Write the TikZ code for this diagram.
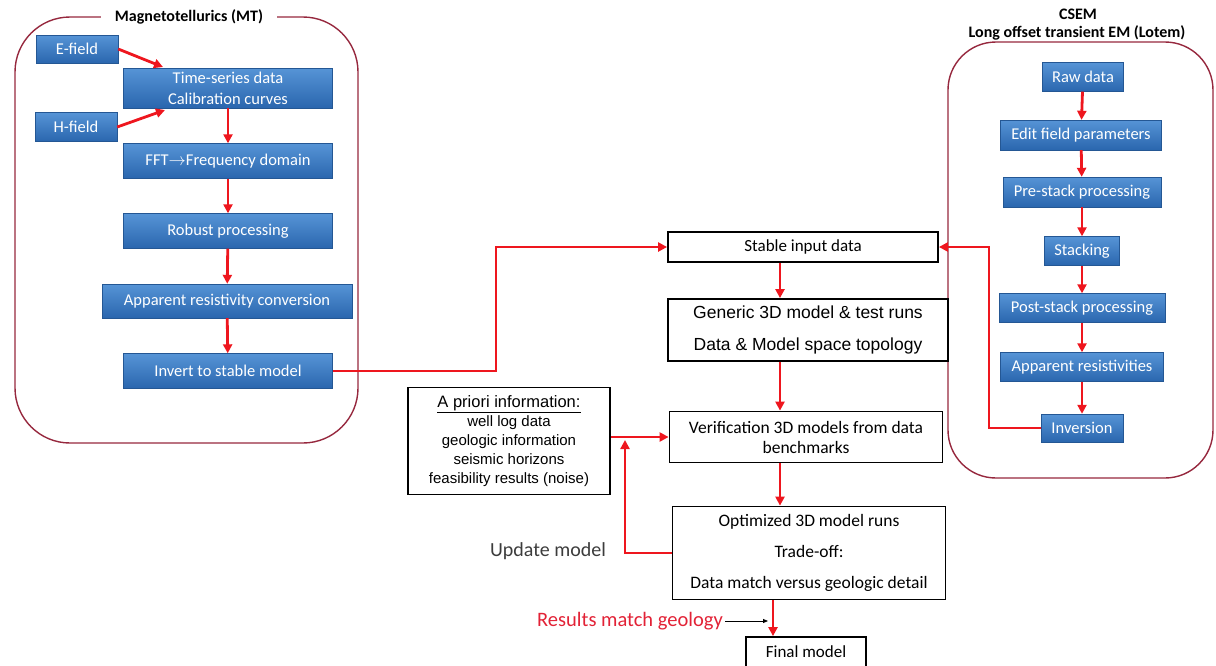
\documentclass[tikz,border=0pt]{standalone}
\usepackage{fontspec}
\setmainfont{Carlito}
\newfontfamily\arialfont{Liberation Sans}
\usetikzlibrary{arrows.meta}
\definecolor{frameline}{RGB}{150,40,62}
\definecolor{bluetop}{RGB}{86,148,214}
\definecolor{bluebot}{RGB}{42,102,174}
\definecolor{flowred}{RGB}{238,22,30}
\definecolor{geored}{RGB}{226,34,54}
\definecolor{graytext}{RGB}{60,60,60}
\tikzset{
  procbox/.style={top color=bluetop, bottom color=bluebot, draw=bluebot!85!black,
    line width=0.4pt, text=white, inner sep=0pt, align=center,
    font=\fontsize{16.5}{21}\selectfont},
  stagebox/.style={draw=black, fill=white, line width=1.8pt, inner sep=0pt, align=center},
  framebox/.style={draw=frameline, line width=1.4pt, rounded corners=55pt},
  titletext/.style={fill=white, font=\bfseries\fontsize{16}{18}\selectfont},
  flow/.style={draw=flowred, line width=2.8pt, -{Triangle[length=9pt,width=9pt]}},
  thinflow/.style={draw=black, line width=0.8pt, -{Triangle[length=5pt,width=4pt]}}
}
\begin{document}
\begin{tikzpicture}[x=1pt, y=-1pt]
  \useasboundingbox (0,0) rectangle (1216,665);
  % frames
  \draw[framebox] (15,17) rectangle (358,443);
  \draw[framebox, rounded corners=48pt] (948,42) rectangle (1213,478);
  \node[titletext, inner xsep=14pt] (mttitle) at (189,17) {Magnetotellurics (MT)};
  \node[titletext, inner xsep=2pt, inner ysep=1pt] (lotemtitle) at (1077,33) {Long offset transient EM (Lotem)};
  \node[titletext, fill=none] (csemtitle) at (1078,14) {CSEM};

  % MT chain
  \node[procbox, minimum width=82, minimum height=28] (efield) at (77,49) {E-field};
  \node[procbox, minimum width=209, minimum height=40] (tsdata) at (228,88) {Time-series data\\Calibration curves};
  \node[procbox, minimum width=82, minimum height=29] (hfield) at (76,127) {H-field};
  \node[procbox, minimum width=209, minimum height=35] (fft) at (228,161) {FFT$\rightarrow$Frequency domain};
  \node[procbox, minimum width=209, minimum height=35] (robust) at (228,231) {Robust processing};
  \node[procbox, minimum width=250, minimum height=34] (apres) at (227,301) {Apparent resistivity conversion};
  \node[procbox, minimum width=209, minimum height=35] (invmt) at (228,371) {Invert to stable model};
  \coordinate (efin) at (163,67);
  \coordinate (hfin) at (165,110);

  % CSEM chain
  \node[procbox, minimum width=81, minimum height=29] (rawdata) at (1083,77) {Raw data};
  \node[procbox, minimum width=161, minimum height=30] (editfield) at (1081,135) {Edit field parameters};
  \node[procbox, minimum width=158, minimum height=30] (prestack) at (1082,192) {Pre-stack processing};
  \node[procbox, minimum width=75, minimum height=29] (stacking) at (1082,251) {Stacking};
  \node[procbox, minimum width=166, minimum height=29] (poststack) at (1082,308) {Post-stack processing};
  \node[procbox, minimum width=163, minimum height=29] (apresist) at (1082,367) {Apparent resistivities};
  \node[procbox, minimum width=82, minimum height=28] (inversion) at (1082,428) {Inversion};

  % central chain
  \node[stagebox, minimum width=270, minimum height=30, font=\fontsize{17}{20}\selectfont] (stable) at (803,247) {Stable input data};
  \node[stagebox, minimum width=280, minimum height=62, font=\arialfont\fontsize{17.5}{32}\selectfont] (generic) at (808,330) {Generic 3D model \& test runs\\Data \& Model space topology};
  \node[stagebox, minimum width=273, minimum height=51, font=\fontsize{17.5}{20}\selectfont] (verify) at (806,437) {Verification 3D models from data\\benchmarks};
  \node[stagebox, minimum width=202, minimum height=107, font=\arialfont\fontsize{15}{19}\selectfont] (apriori) at (509,441)
    {{\fontsize{16.5}{19}\selectfont\underline{A priori information:}}\\well log data\\geologic information\\seismic horizons\\feasibility results (noise)};
  \node[stagebox, minimum width=273, minimum height=93, font=\fontsize{17.5}{31}\selectfont] (optimized) at (809,553) {Optimized 3D model runs\\Trade-off:\\Data match versus geologic detail};
  \node[stagebox, minimum width=120, minimum height=30, font=\fontsize{17}{20}\selectfont] (final) at (806,652) {Final model};
  \node[text=graytext, font=\fontsize{20}{24}\selectfont] (update) at (548,551) {Update model};
  \node[text=geored, font=\fontsize{20.5}{24}\selectfont, inner sep=2pt] (results) at (630,621) {Results match geology};
  \coordinate (colx) at (780,0);
  \coordinate (finx) at (773,0);
  \coordinate (mtbend) at (496,0);
  \coordinate (csembend) at (989,0);
  \coordinate (updtip) at (625,440);
  \coordinate (resultstip) at (768,621);

  % MT arrows
  \draw[flow] (efield.east) -- (efin);
  \draw[flow] (hfield.east) -- (hfin);
  \draw[flow] (tsdata) -- (fft);
  \draw[flow] (fft) -- (robust);
  \draw[flow] (robust) -- (apres);
  \draw[flow] (apres) -- (invmt);
  % CSEM arrows
  \draw[flow] (rawdata) -- (editfield);
  \draw[flow] (editfield) -- (prestack);
  \draw[flow] (prestack) -- (stacking);
  \draw[flow] (stacking) -- (poststack);
  \draw[flow] (poststack) -- (apresist);
  \draw[flow] (apresist) -- (inversion);
  % to the central chain
  \draw[flow] (invmt.east) -- (invmt.east -| mtbend) |- (stable.west);
  \draw[flow] (inversion.west) -- (inversion.west -| csembend) |- (stable.east);
  \draw[flow] (stable.south -| colx) -- (generic.north -| colx);
  \draw[flow] (generic.south -| colx) -- (verify.north -| colx);
  \draw[flow] (verify.south -| colx) -- (optimized.north -| colx);
  \draw[flow] (optimized.south -| finx) -- (final.north -| finx);
  \draw[flow] (apriori.east |- verify.west) -- (verify.west);
  \draw[flow] (optimized.west) -| (updtip);
  \draw[thinflow] (results.east) -- (resultstip);
\end{tikzpicture}
\end{document}
